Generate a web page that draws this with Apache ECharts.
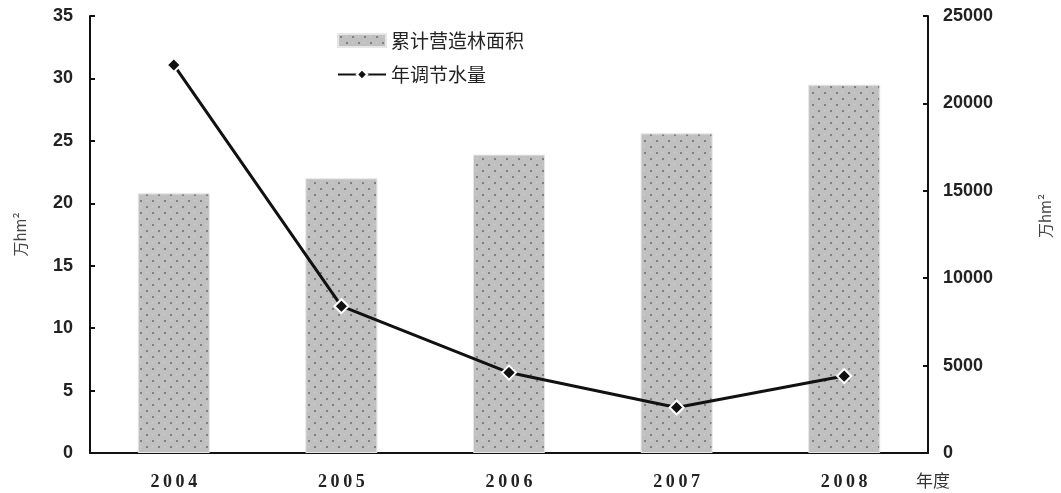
<!DOCTYPE html>
<html><head><meta charset="utf-8">
<script src="https://cdn.jsdelivr.net/npm/echarts@6/dist/echarts.min.js"></script>
<style>html,body{margin:0;padding:0;background:#fff}#c{width:1061px;height:493px}</style>
</head><body><div id="c"></div>
<script>
const categories = ['2004', '2005', '2006', '2007', '2008'];
const areaValues = [20.8, 22.0, 23.9, 25.6, 29.5];
const waterValues = [22200, 8400, 4600, 2600, 4400];
const leftTicks = [0, 35, 5];
const rightTicks = [0, 25000, 5000];

function makePattern() {
  const c = document.createElement('canvas');
  c.width = 12; c.height = 12;
  const g = c.getContext('2d');
  g.fillStyle = '#c0c0c0'; g.fillRect(0, 0, 12, 12);
  g.fillStyle = '#808080';
  g.fillRect(2, 2, 2, 2); g.fillRect(8, 8, 2, 2);
  g.fillStyle = '#d6d6d6';
  g.fillRect(8, 2, 1, 1); g.fillRect(2, 8, 1, 1);
  return c;
}
const pat = { image: makePattern(), repeat: 'repeat' };

const chart = echarts.init(document.getElementById('c'));
const numLabel = { color: '#222', fontFamily: 'Liberation Sans, Arial', fontWeight: 'bold', fontSize: 18 };
chart.setOption({
  animation: false,
  grid: { left: 90, right: 133, top: 16, bottom: 40 },
  legend: {
    orient: 'vertical', left: 332, top: 26, itemGap: 15, itemWidth: 48, itemHeight: 13,
    textStyle: { fontFamily: 'Noto Sans CJK SC', fontSize: 19, color: '#222' },
    data: [{ name: '累计营造林面积', icon: 'rect' }, { name: '年调节水量' }]
  },
  graphic: [{
    type: 'text', x: 1038, y: 238, rotation: Math.PI / 2,
    style: { text: '万hm²', fontFamily: 'Noto Sans CJK SC', fontSize: 15, fill: '#444' }
  }],
  xAxis: {
    type: 'category', data: categories,
    axisLine: { lineStyle: { color: '#111', width: 2 } },
    axisTick: { inside: true, length: 5, lineStyle: { color: '#111', width: 2 } },
    axisLabel: {
      margin: 20, color: '#222', fontFamily: 'Liberation Serif, serif', fontWeight: 'bold', fontSize: 18,
      formatter: v => v.split('').join('\u2009')
    },
    name: '年度', nameLocation: 'end', nameGap: 10,
    nameTextStyle: { fontFamily: 'Noto Sans CJK SC', fontSize: 17, color: '#333', verticalAlign: 'top', padding: [19, 0, 0, -22] }
  },
  yAxis: [
    {
      type: 'value', min: leftTicks[0], max: leftTicks[1], interval: leftTicks[2],
      axisLine: { show: true, lineStyle: { color: '#111', width: 2 } },
      axisTick: { show: true, inside: true, length: 5, lineStyle: { color: '#111', width: 2 } },
      splitLine: { show: false },
      axisLabel: Object.assign({ margin: 17 }, numLabel),
      name: '万hm²', nameLocation: 'middle', nameGap: 62, nameRotate: 90,
      nameTextStyle: { fontFamily: 'Noto Sans CJK SC', fontSize: 15, color: '#444' }
    },
    {
      type: 'value', min: rightTicks[0], max: rightTicks[1], interval: rightTicks[2],
      axisLine: { show: true, lineStyle: { color: '#111', width: 2 } },
      axisTick: { show: true, inside: true, length: 5, lineStyle: { color: '#111', width: 2 } },
      splitLine: { show: false },
      axisLabel: Object.assign({ margin: 15, formatter: v => String(v) }, numLabel)
    }
  ],
  series: [
    {
      name: '累计营造林面积', type: 'bar', data: areaValues, barWidth: '43%',
      itemStyle: { color: pat, borderColor: '#e6e6e6', borderWidth: 1 }
    },
    {
      name: '年调节水量', type: 'line', yAxisIndex: 1, data: waterValues,
      symbol: 'diamond', symbolSize: 14,
      lineStyle: { color: '#111', width: 3 },
      itemStyle: { color: '#111', borderColor: '#fff', borderWidth: 2 }
    }
  ]
});
</script></body></html>
